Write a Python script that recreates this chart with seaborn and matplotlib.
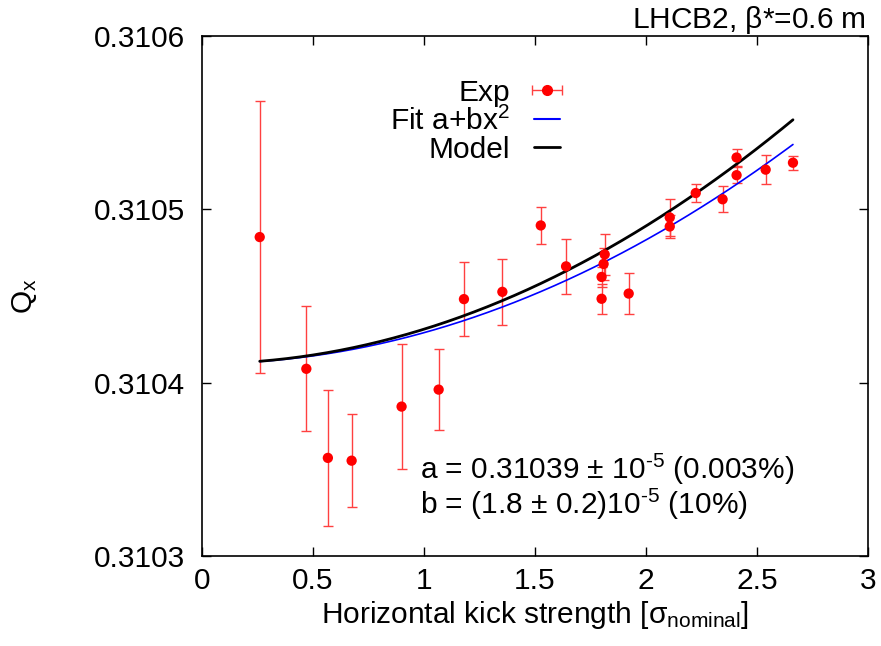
import numpy as np
import pandas as pd
import matplotlib
matplotlib.use("Agg")
import matplotlib.pyplot as plt
import seaborn as sns

# ---- data ----
x_exp = [0.26, 0.47, 0.567, 0.674, 0.899, 1.066, 1.18, 1.353, 1.526, 1.64,
         1.814, 1.809, 1.80, 1.80, 1.922, 2.107, 2.107, 2.224, 2.345, 2.408,
         2.408, 2.539, 2.662]
q_exp = [0.310484, 0.310408, 0.3103566, 0.310355, 0.3103862, 0.310396, 0.3104482,
         0.3104524, 0.3104907, 0.3104671, 0.310474, 0.3104685, 0.310461, 0.3104484,
         0.3104514, 0.3104953, 0.3104901, 0.3105094, 0.3105058, 0.3105299,
         0.3105197, 0.3105229, 0.3105269]
q_err = [0.0000785, 0.000036, 0.0000393, 0.000027, 0.000036, 0.0000233, 0.0000215,
         0.000019, 0.0000107, 0.000016, 0.0000117, 0.000009, 0.000006, 0.0000085,
         0.000012, 0.0000107, 0.0000067, 0.000005, 0.0000074, 0.000005,
         0.0000047, 0.0000082, 0.0000041]

fit_coef = [0.310411, 1.784e-5]     # a + b x^2
model_coef = [0.310411, 1.985e-5]   # model curve

x_ticks = [0, 0.5, 1, 1.5, 2, 2.5, 3]
y_ticks = [0.3103, 0.3104, 0.3105, 0.3106]

sns.set_style("ticks")
plt.rcParams['font.family'] = ['Liberation Sans', 'DejaVu Sans']
plt.rcParams['mathtext.default'] = 'regular'
plt.rcParams['mathtext.fontset'] = 'custom'
plt.rcParams['mathtext.rm'] = 'Liberation Sans'
plt.rcParams['mathtext.it'] = 'Liberation Sans'
plt.rcParams['text.color'] = 'black'
plt.rcParams['axes.labelcolor'] = 'black'

FS = 21.5

fig = plt.figure(figsize=(8.81, 6.46), dpi=100)
ax = fig.add_axes([202/881, 1-556/646, (868-202)/881, (556-36)/646])

xc = np.linspace(min(x_exp), max(x_exp), 200)
curves = pd.DataFrame({
    "x": xc,
    "fit": fit_coef[0] + fit_coef[1]*xc**2,
    "model": model_coef[0] + model_coef[1]*xc**2,
})
df = pd.DataFrame({"x": x_exp, "q": q_exp, "e": q_err})

ecol = (1, 0.25, 0.25)
ax.errorbar(df["x"], df["q"], yerr=df["e"], fmt='none', ecolor=ecol,
            elinewidth=1.0, capsize=3.5, capthick=1.0, zorder=2)
sns.scatterplot(data=df, x="x", y="q", color='red', s=55, edgecolor='none',
                ax=ax, zorder=4, legend=False)
sns.lineplot(data=curves, x="x", y="fit", color='blue', lw=1.2, ax=ax, zorder=3)
sns.lineplot(data=curves, x="x", y="model", color='black', lw=2.0, ax=ax, zorder=3)

# legend handles
h_exp = ax.errorbar([np.nan], [np.nan], xerr=[1], fmt='o', color='red', ms=7,
                    elinewidth=1.0, capsize=3.5, ecolor=ecol)
h_fit, = ax.plot([], [], color='blue', lw=1.5)
h_mod, = ax.plot([], [], color='black', lw=2.0)
leg = ax.legend([h_exp, h_fit, h_mod], ["Exp", r"Fit a+bx$^{2}$", "Model"],
                loc='upper right', bbox_to_anchor=(0.537, 0.918), frameon=False,
                markerfirst=False, fontsize=FS, handlelength=0.85,
                handletextpad=0.8, labelspacing=0.0, borderaxespad=0, borderpad=0)

ax.set_xlim(0, 3)
ax.set_ylim(0.3103, 0.3106)
ax.set_xticks(x_ticks)
ax.set_yticks(y_ticks)
ax.set_xticklabels([f"{v:g}" for v in x_ticks])
ax.set_yticklabels([f"{v:.4f}" for v in y_ticks])
ax.tick_params(direction='in', length=6.5, width=1.0, top=True, right=True,
               labelsize=FS, colors='black')
ax.tick_params(axis='y', pad=12)
ax.tick_params(axis='x', pad=8)
for s in ax.spines.values():
    s.set_visible(True)
    s.set_linewidth(1.2)
    s.set_color('black')

ax.set_xlabel(r"Horizontal kick strength [$\sigma_{nominal}$]", fontsize=FS, labelpad=3)
ax.set_ylabel(r"Q$_x$", fontsize=FS, labelpad=40)

ax.text(0.327, 0.148, r"a = 0.31039 $\pm$ 10$^{\text{-}5}$ (0.003%)", transform=ax.transAxes,
        fontsize=FS, ha='left', va='baseline')
ax.text(0.327, 0.080, r"b = (1.8 $\pm$ 0.2)10$^{\text{-}5}$ (10%)", transform=ax.transAxes,
        fontsize=FS, ha='left', va='baseline')
fig.text(866/881, 1-28/646, r"LHCB2, $\beta$*=0.6 m", fontsize=FS, ha='right', va='baseline')

fig.savefig("out.png", dpi=100)
